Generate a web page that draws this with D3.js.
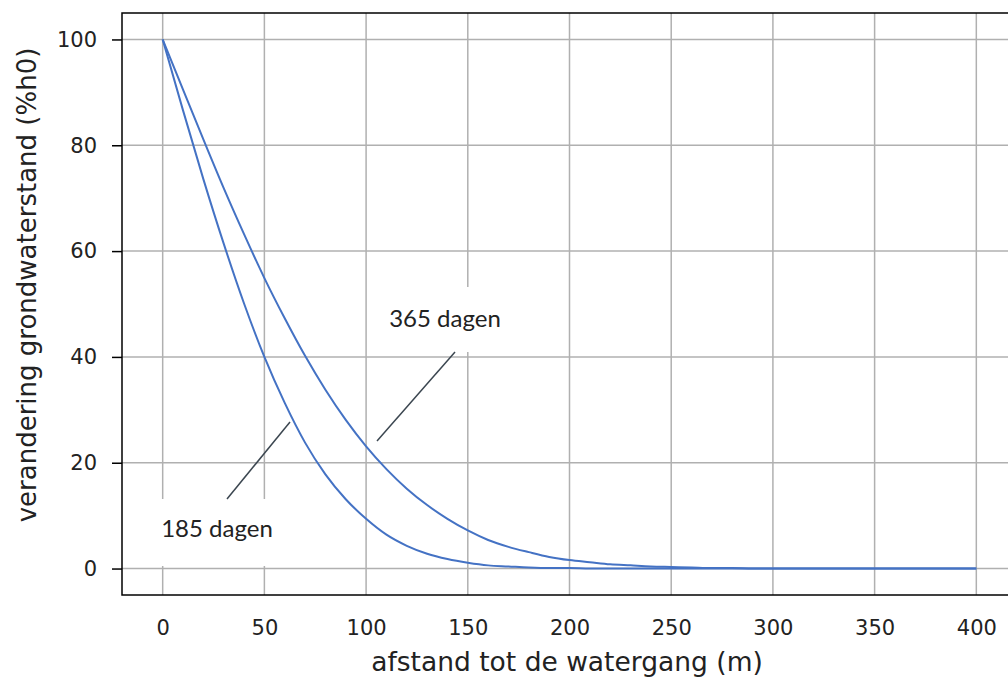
<!DOCTYPE html>
<html>
<head>
<meta charset="utf-8">
<script src="https://cdn.jsdelivr.net/npm/d3@7"></script>
<style>
  body { margin: 0; background: #fff; }
  svg { display: block; }
</style>
</head>
<body>
<div id="chart"></div>
<script>
// afstand tot de watergang (m)
var afstand = [0, 10, 20, 30, 40, 50, 60, 70, 80, 90, 100, 110, 120, 130, 140, 150,
    160, 170, 180, 190, 200, 210, 220, 230, 240, 250, 260, 270, 280, 290, 300, 350, 400];
// verandering grondwaterstand (%h0) na 185 dagen
var dagen185 = [100, 86.6, 73.6, 61.4, 50.1, 40.0, 31.3, 23.8, 17.8, 13.1, 9.4, 6.4, 4.3, 2.8, 1.8, 1.1,
    0.6, 0.4, 0.2, 0.1, 0.1, 0, 0, 0, 0, 0, 0, 0, 0, 0, 0, 0, 0];
// na 365 dagen
var dagen365 = [100, 90.5, 81.1, 71.9, 63.2, 54.9, 47.3, 40.2, 33.8, 28.1, 23.1, 18.8, 15.1, 12.0, 9.4, 7.2,
    5.4, 4.1, 3.1, 2.2, 1.6, 1.2, 0.8, 0.6, 0.4, 0.3, 0.2, 0.1, 0.1, 0, 0, 0, 0];

var x_ticks = [0, 50, 100, 150, 200, 250, 300, 350, 400],
    y_ticks = [0, 20, 40, 60, 80, 100];

var svg_width = 1008,
    svg_height = 679,
    plot_left = 122,
    plot_right = 1017,
    plot_top = 13,
    plot_bottom = 595,
    line_color = "#4472c4",
    grid_color = "#b0b0b0",
    axis_font = "'DejaVu Sans', sans-serif",
    note_font = "Lato, 'Open Sans', sans-serif";

var x = d3.scaleLinear().domain([-20, 420]).range([plot_left, plot_right]);
var y = d3.scaleLinear().domain([-5, 105]).range([plot_bottom, plot_top]);

var svg = d3.select("#chart").append("svg")
    .attr("width", svg_width)
    .attr("height", svg_height);

//grid
var grid = svg.append("g");
grid.selectAll(".vgrid").data(x_ticks).enter().append("line")
    .attr("x1", function (d) { return x(d); })
    .attr("x2", function (d) { return x(d); })
    .attr("y1", plot_top).attr("y2", plot_bottom)
    .attr("stroke", grid_color).attr("stroke-width", 1.5);
grid.selectAll(".hgrid").data(y_ticks).enter().append("line")
    .attr("y1", function (d) { return y(d); })
    .attr("y2", function (d) { return y(d); })
    .attr("x1", plot_left).attr("x2", plot_right)
    .attr("stroke", grid_color).attr("stroke-width", 1.5);

//curves
var line = d3.line()
    .x(function (d) { return x(d[0]); })
    .y(function (d) { return y(d[1]); })
    .curve(d3.curveMonotoneX);

[dagen185, dagen365].forEach(function (series) {
    svg.append("path")
        .datum(d3.zip(afstand, series))
        .attr("d", line)
        .attr("fill", "none")
        .attr("stroke", line_color)
        .attr("stroke-width", 2);
});

//annotations: white box, label, pointer
var notes = [
    {text: "365 dagen", box: [380, 287, 132, 65], tx: 445, ty: 327, from: [455, 352], to: [377, 441]},
    {text: "185 dagen", box: [150, 499, 135, 67], tx: 217, ty: 537, from: [227, 499], to: [290, 422]}
];
notes.forEach(function (n) {
    svg.append("rect")
        .attr("x", n.box[0]).attr("y", n.box[1])
        .attr("width", n.box[2]).attr("height", n.box[3])
        .attr("fill", "#fff");
    svg.append("text")
        .attr("x", n.tx).attr("y", n.ty)
        .attr("text-anchor", "middle")
        .attr("font-family", note_font)
        .attr("font-size", "24px")
        .attr("fill", "#222")
        .text(n.text);
    svg.append("line")
        .attr("x1", n.from[0]).attr("y1", n.from[1])
        .attr("x2", n.to[0]).attr("y2", n.to[1])
        .attr("stroke", "#3b4650").attr("stroke-width", 1.5);
});

//frame
svg.append("rect")
    .attr("x", plot_left).attr("y", plot_top)
    .attr("width", plot_right - plot_left).attr("height", plot_bottom - plot_top)
    .attr("fill", "none").attr("stroke", "#000").attr("stroke-width", 1.5);

//y axis
var yAxis = svg.append("g")
    .attr("transform", "translate(" + plot_left + ",0)")
    .call(d3.axisLeft(y).tickValues(y_ticks).tickSize(10).tickPadding(15));
yAxis.select(".domain").remove();
yAxis.selectAll(".tick line").attr("stroke-width", 1.5);
yAxis.selectAll("text")
    .attr("font-family", axis_font).attr("font-size", "21px").attr("fill", "#222");

//x axis (labels only)
var xAxis = svg.append("g")
    .attr("transform", "translate(0," + plot_bottom + ")")
    .call(d3.axisBottom(x).tickValues(x_ticks).tickSize(0).tickPadding(25));
xAxis.select(".domain").remove();
xAxis.selectAll("text")
    .attr("font-family", axis_font).attr("font-size", "21px").attr("fill", "#222");

//axis titles
svg.append("text")
    .attr("x", 567).attr("y", 671)
    .attr("text-anchor", "middle")
    .attr("font-family", axis_font).attr("font-size", "26.5px").attr("fill", "#222")
    .text("afstand tot de watergang (m)");
svg.append("text")
    .attr("transform", "translate(36,285) rotate(-90)")
    .attr("text-anchor", "middle")
    .attr("font-family", axis_font).attr("font-size", "26px").attr("fill", "#222")
    .text("verandering grondwaterstand (%h0)");
</script>
</body>
</html>
